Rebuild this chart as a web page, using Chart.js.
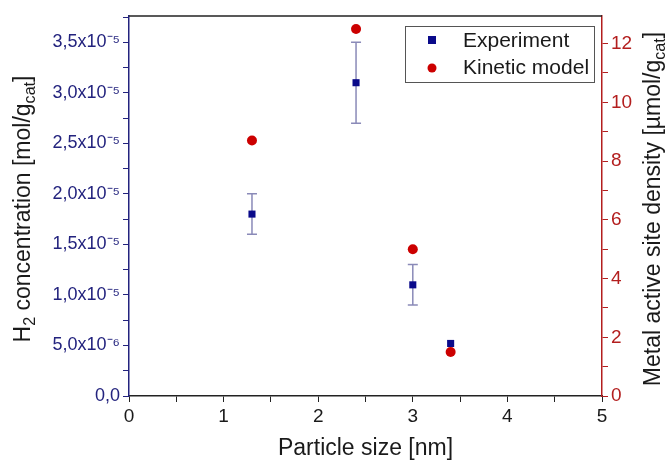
<!DOCTYPE html>
<html>
<head>
<meta charset="utf-8">
<script src="https://cdn.jsdelivr.net/npm/chart.js@4.4.1/dist/chart.umd.min.js"></script>
<style>
  body { margin: 0; background: #fff; }
  #wrap { width: 671px; height: 464px; }
</style>
</head>
<body>
<div id="wrap"><canvas id="chart" width="671" height="464"></canvas></div>
<script>
// Data
const particleSize = [1.3, 2.4, 3.0, 3.4];
const h2Conc = [1.8e-5, 3.1e-5, 1.1e-5, 5.2e-6];
const h2Err = [0.2e-5, 0.4e-5, 0.2e-5, 0];
const siteDensity = [8.7, 12.5, 5.0, 1.5];

const NAVY = '#23237e';
const RED = '#b31e1e';
const FONT = '"Liberation Sans", Arial, sans-serif';

const SUP = { '-': '⁻', '0': '⁰', '1': '¹', '2': '²', '3': '³', '4': '⁴', '5': '⁵', '6': '⁶', '7': '⁷', '8': '⁸', '9': '⁹' };

function sciLabel(v) {
    if (Math.abs(v) < 1e-12) return '0,0';
    let exp = Math.floor(Math.log10(v) + 1e-9);
    let mant = (v / Math.pow(10, exp)).toFixed(1).replace('.', ',');
    let sup = String(exp).split('').map(c => SUP[c]).join('');
    return mant + 'x10' + sup;
}

function isMajor(v, step) {
    const r = v / step;
    return Math.abs(r - Math.round(r)) < 1e-6;
}

// draws text with a subscript part: parts = [[text, isSub], ...]
function drawRich(ctx, parts, x, y, size) {
    let total = 0;
    parts.forEach(p => {
        ctx.font = (p[1] ? size * 0.7 : size) + 'px ' + FONT;
        total += ctx.measureText(p[0]).width;
    });
    let cx = x - total / 2;
    parts.forEach(p => {
        ctx.font = (p[1] ? size * 0.7 : size) + 'px ' + FONT;
        ctx.fillText(p[0], cx, p[1] ? y + size * 0.3 : y);
        cx += ctx.measureText(p[0]).width;
    });
}

const extras = {
    id: 'extras',
    beforeDatasetsDraw(chart) {
        const ctx = chart.ctx;
        const xs = chart.scales.x, ys = chart.scales.y;
        ctx.save();
        ctx.strokeStyle = '#8a8ab8';
        ctx.lineWidth = 1.5;
        particleSize.forEach((p, i) => {
            if (!h2Err[i]) return;
            const px = xs.getPixelForValue(p);
            const y1 = ys.getPixelForValue(h2Conc[i] + h2Err[i]);
            const y2 = ys.getPixelForValue(h2Conc[i] - h2Err[i]);
            ctx.beginPath();
            ctx.moveTo(px, y1); ctx.lineTo(px, y2);
            ctx.moveTo(px - 5, y1); ctx.lineTo(px + 5, y1);
            ctx.moveTo(px - 5, y2); ctx.lineTo(px + 5, y2);
            ctx.stroke();
        });
        ctx.restore();
    },
    afterDraw(chart) {
        const ctx = chart.ctx;
        const a = chart.chartArea;
        ctx.save();
        // top frame line
        ctx.strokeStyle = '#222';
        ctx.lineWidth = 1.5;
        ctx.beginPath();
        ctx.moveTo(a.left, a.top); ctx.lineTo(a.right, a.top);
        ctx.stroke();

        // axis titles
        ctx.fillStyle = '#1a1a1a';
        ctx.textBaseline = 'middle';
        ctx.font = '23px ' + FONT;
        ctx.textAlign = 'center';
        ctx.fillText('Particle size [nm]', (a.left + a.right) / 2, 449);

        ctx.textAlign = 'left';
        ctx.save();
        ctx.translate(24, (a.top + a.bottom) / 2 + 3);
        ctx.rotate(-Math.PI / 2);
        drawRich(ctx, [['H', false], ['2', true], [' concentration [mol/g', false], ['cat', true], [']', false]], 0, 0, 23);
        ctx.restore();

        ctx.save();
        ctx.translate(654, (a.top + a.bottom) / 2 + 3);
        ctx.rotate(-Math.PI / 2);
        drawRich(ctx, [['Metal active site density [µmol/g', false], ['cat', true], [']', false]], 0, 0, 23);
        ctx.restore();

        // legend box
        ctx.strokeStyle = '#555';
        ctx.lineWidth = 1;
        ctx.fillStyle = '#fff';
        ctx.fillRect(405, 26, 189, 56);
        ctx.strokeRect(405.5, 26.5, 189, 56);
        ctx.fillStyle = '#0a0a8a';
        ctx.fillRect(428, 36, 8, 8);
        ctx.fillStyle = '#cc0000';
        ctx.beginPath();
        ctx.arc(432, 68, 4.5, 0, Math.PI * 2);
        ctx.fill();
        ctx.fillStyle = '#1a1a1a';
        ctx.font = '21px ' + FONT;
        ctx.textAlign = 'left';
        ctx.fillText('Experiment', 463, 41);
        ctx.fillText('Kinetic model', 463, 68);
        ctx.restore();
    }
};

const ctx = document.getElementById('chart').getContext('2d');
new Chart(ctx, {
    type: 'scatter',
    data: {
        datasets: [{
            label: 'Experiment',
            data: particleSize.map((p, i) => ({ x: p, y: h2Conc[i] })),
            yAxisID: 'y',
            pointStyle: 'rect',
            pointRadius: 5,
            pointHoverRadius: 5,
            backgroundColor: '#0a0a8a',
            borderColor: '#0a0a8a',
            borderWidth: 0
        }, {
            label: 'Kinetic model',
            data: particleSize.map((p, i) => ({ x: p, y: siteDensity[i] })),
            yAxisID: 'y2',
            pointStyle: 'circle',
            pointRadius: 5,
            pointHoverRadius: 5,
            backgroundColor: '#cc0000',
            borderColor: '#cc0000',
            borderWidth: 0
        }]
    },
    options: {
        responsive: false,
        animation: false,
        layout: { padding: { top: 16, left: 0, right: 0, bottom: 0 } },
        plugins: {
            legend: { display: false },
            tooltip: { enabled: false }
        },
        scales: {
            x: {
                type: 'linear',
                min: 0,
                max: 5,
                afterFit: s => { s.height = 68; },
                border: { color: '#222', width: 1.5 },
                grid: { drawOnChartArea: false, tickLength: 6, color: '#222' },
                ticks: {
                    stepSize: 0.5,
                    color: '#1a1a1a',
                    font: { size: 19, family: FONT },
                    padding: 3,
                    maxRotation: 0,
                    autoSkip: false,
                    callback: v => isMajor(v, 1) ? String(Math.round(v)) : ''
                }
            },
            y: {
                type: 'linear',
                position: 'left',
                min: 0,
                max: 3.76e-5,
                afterFit: s => { s.width = 129; },
                border: { color: NAVY, width: 1.5 },
                grid: { drawOnChartArea: false, tickLength: 6, color: NAVY },
                ticks: {
                    stepSize: 0.25e-5,
                    includeBounds: false,
                    autoSkip: false,
                    color: NAVY,
                    font: { size: 18, family: FONT },
                    padding: 3,
                    callback: v => isMajor(v, 0.5e-5) ? sciLabel(v) : ''
                }
            },
            y2: {
                type: 'linear',
                position: 'right',
                min: 0,
                max: 12.94,
                afterFit: s => { s.width = 69; },
                border: { color: RED, width: 1.5 },
                grid: { drawOnChartArea: false, tickLength: 6, color: RED },
                ticks: {
                    stepSize: 1,
                    includeBounds: false,
                    autoSkip: false,
                    color: RED,
                    font: { size: 19, family: FONT },
                    padding: 3,
                    callback: v => isMajor(v, 2) ? String(Math.round(v)) : ''
                }
            }
        }
    },
    plugins: [extras]
});
</script>
</body>
</html>
